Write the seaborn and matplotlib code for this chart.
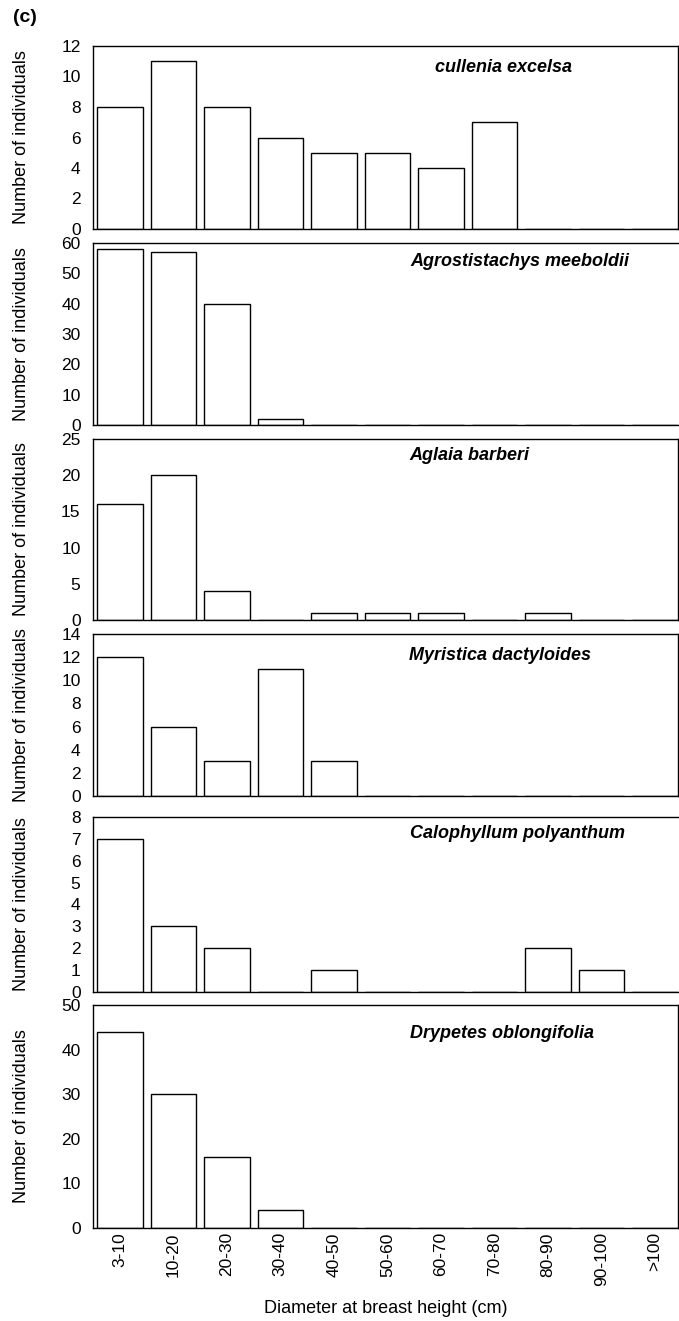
import matplotlib
matplotlib.use('Agg')
import matplotlib.pyplot as plt
import seaborn as sns

sns.set_style('white')
plt.rcParams['font.family'] = ['Liberation Sans', 'DejaVu Sans']
plt.rcParams['text.color'] = 'black'
plt.rcParams['xtick.color'] = 'black'
plt.rcParams['ytick.color'] = 'black'
plt.rcParams['axes.labelcolor'] = 'black'

# DBH classes and counts per species
dbh_classes = ['3-10', '10-20', '20-30', '30-40', '40-50', '50-60',
               '60-70', '70-80', '80-90', '90-100', '>100']
cullenia = [8, 11, 8, 6, 5, 5, 4, 7, 0, 0, 0]
agrostistachys = [58, 57, 40, 2, 0, 0, 0, 0, 0, 0, 0]
aglaia = [16, 20, 4, 0, 1, 1, 1, 0, 1, 0, 0]
myristica = [12, 6, 3, 11, 3, 0, 0, 0, 0, 0, 0]
calophyllum = [7, 3, 2, 0, 1, 0, 0, 0, 2, 1, 0]
drypetes = [44, 30, 16, 4, 0, 0, 0, 0, 0, 0, 0]

species = ['cullenia excelsa', 'Agrostistachys meeboldii', 'Aglaia barberi',
           'Myristica dactyloides', 'Calophyllum polyanthum', 'Drypetes oblongifolia']
counts = [cullenia, agrostistachys, aglaia, myristica, calophyllum, drypetes]
y_max = [12, 60, 25, 14, 8, 50]
y_step = [2, 10, 5, 2, 1, 10]

W, H = 679, 1321
fig = plt.figure(figsize=(W / 100, H / 100), dpi=100)

# panel extents in pixels (top, bottom), and species label anchor (x, y)
panels = [(46, 229), (243, 425), (439, 620), (634, 796), (817, 992), (1005, 1228)]
label_pos = [(435, 68), (410, 262), (409, 455), (409, 655), (410, 833), (410, 1033)]
left, right = 93, 678

for i, (name, vals) in enumerate(zip(species, counts)):
    top, bot = panels[i]
    ax = fig.add_axes([left / W, 1 - bot / H, (right - left) / W, (bot - top) / H])
    sns.barplot(x=dbh_classes, y=vals, ax=ax, color='white', saturation=1,
                edgecolor='black', linewidth=1.0, width=0.85)
    ax.set_xlim(-0.5, 10.43)
    ax.set_ylim(0, y_max[i])
    ax.set_yticks(range(0, y_max[i] + 1, y_step[i]))
    ax.tick_params(axis='y', length=0, pad=9, labelsize=12.5)
    ax.set_ylabel('')
    for s in ax.spines.values():
        s.set_color('black')
        s.set_linewidth(1.0)
    if i in (1, 4):
        ax.spines['right'].set_visible(False)
    if i < 5:
        ax.set_xticks([])
    else:
        ax.tick_params(axis='x', length=0, pad=3, labelsize=12.5, labelrotation=90)
        ax.set_xlabel('Diameter at breast height (cm)', fontsize=13)
        ax.xaxis.set_label_coords(0.5, -0.323)
        ax.xaxis.label.set_va('top')
    fig.text(22 / W, 1 - (top + bot) / 2 / H, 'Number of individuals',
             rotation=90, ha='center', va='center', fontsize=13)
    lx, ly = label_pos[i]
    fig.text(lx / W, 1 - ly / H, name, ha='left', va='center', fontsize=13,
             fontweight='bold', fontstyle='italic')

fig.text(13 / W, 1 - 18 / H, '(c)', ha='left', va='center', fontsize=14, fontweight='bold')

plt.savefig('out.png', dpi=100)
plt.close()
